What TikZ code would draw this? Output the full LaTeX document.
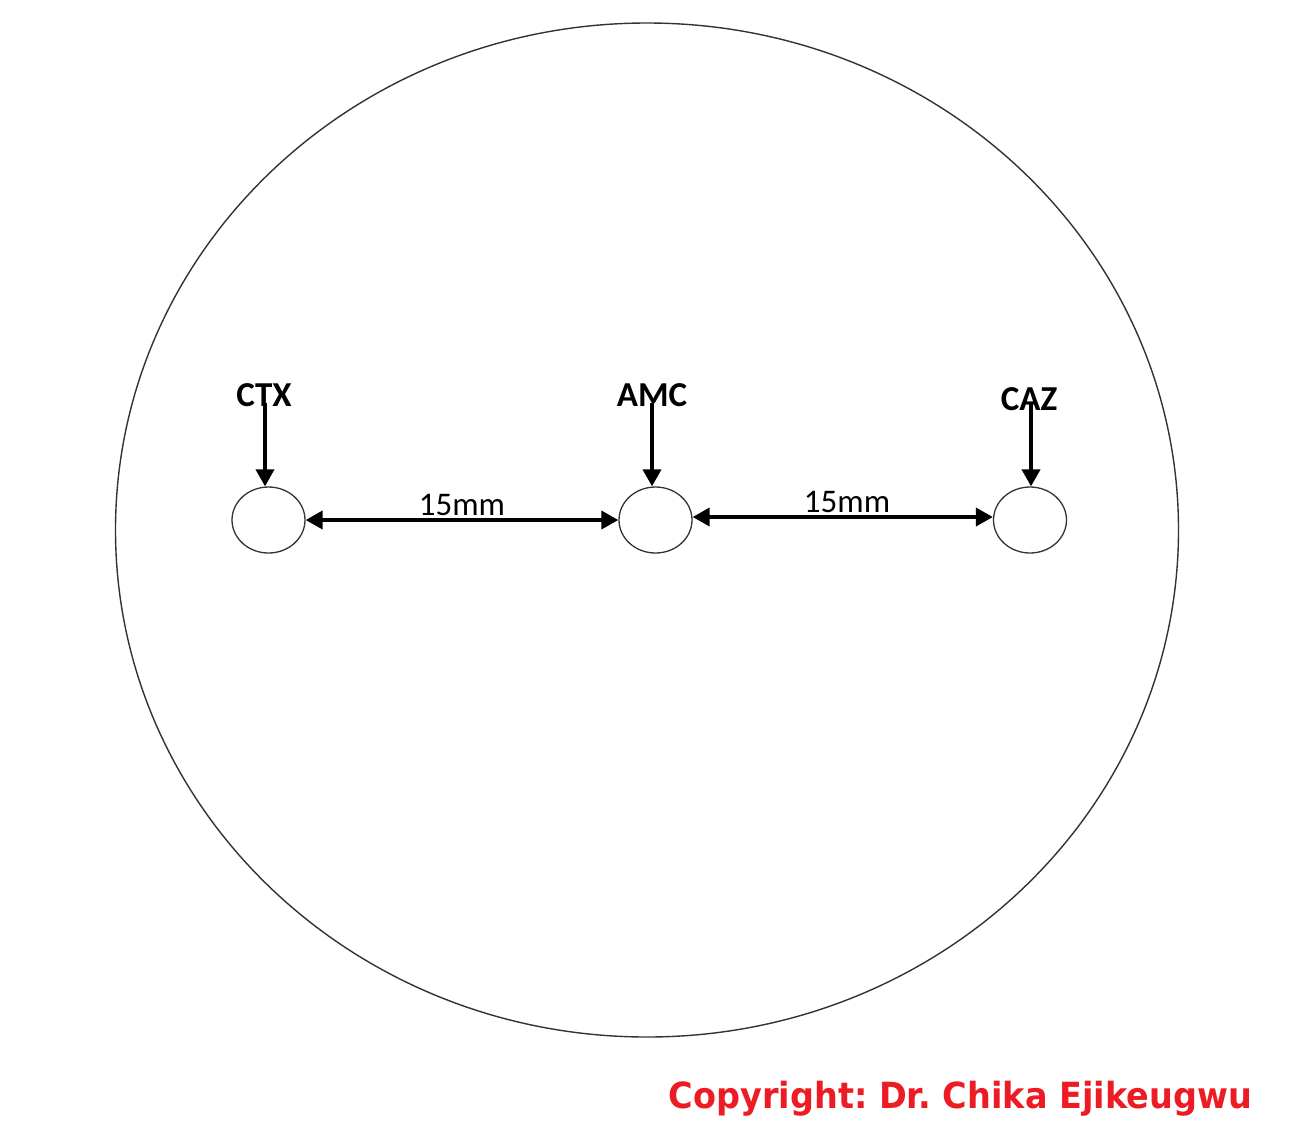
\documentclass[tikz,border=0pt]{standalone}
\usepackage{fontspec}
\setmainfont{Carlito}
\newfontfamily\copyfont{DejaVu Sans}
\usetikzlibrary{shapes.geometric,arrows.meta}
\definecolor{copyred}{HTML}{ED1C24}
\definecolor{rimgray}{HTML}{333333}
\frenchspacing
\tikzset{
  disk/.style={ellipse,draw=rimgray,line width=1.3pt,minimum width=73pt,minimum height=66pt,inner sep=0pt},
  drug/.style={font=\fontsize{35}{35}\selectfont\bfseries,inner sep=0pt,anchor=center},
  dist/.style={font=\fontsize{33}{33}\selectfont,inner sep=0pt,anchor=center},
  arr/.style={line width=3.8pt,-{Triangle[length=17pt,width=18pt]}},
  darr/.style={line width=3.8pt,{Triangle[length=17pt,width=18pt]}-{Triangle[length=17pt,width=18pt]}}
}
\begin{document}
\begin{tikzpicture}[x=1pt,y=-1pt]
\useasboundingbox[fill=white] (0,0) rectangle (1298,1136);
\draw[rimgray,line width=1.4pt] (647,530) ellipse [x radius=531.5, y radius=507];
\node[disk] (c1) at (268.5,520) {};
\node[disk] (c2) at (655.5,520) {};
\node[disk] (c3) at (1030,520) {};
\node[drug] (ctx) at (264,395) {CTX};
\node[drug] (amc) at (652,395) {AMC};
\node[drug] (caz) at (1029,399) {CAZ};
\draw[darr] (c1.east) -- (c2.west);
\draw[darr] ([yshift=3pt]c2.east) -- ([yshift=3pt]c3.west);
\node[dist] (d1) at (462,505) {15mm};
\node[dist] (d2) at (847,502) {15mm};
\draw[arr] ([xshift=1pt,yshift=-8pt]ctx.center) -- ([xshift=1pt]ctx.center |- c1.north);
\draw[arr] ([yshift=-8pt]amc.center) -- (amc.center |- c2.north);
\draw[arr] ([xshift=2pt,yshift=-4pt]caz.center) -- ([xshift=2pt]caz.center |- c3.north);
\node[font=\copyfont\fontsize{36}{36}\selectfont\bfseries,text=copyred,inner sep=0pt,anchor=east] (copy) at (1252,1099) {\scalebox{0.93}[1]{Copyright: Dr. Chika Ejikeugwu}};
\end{tikzpicture}
\end{document}
